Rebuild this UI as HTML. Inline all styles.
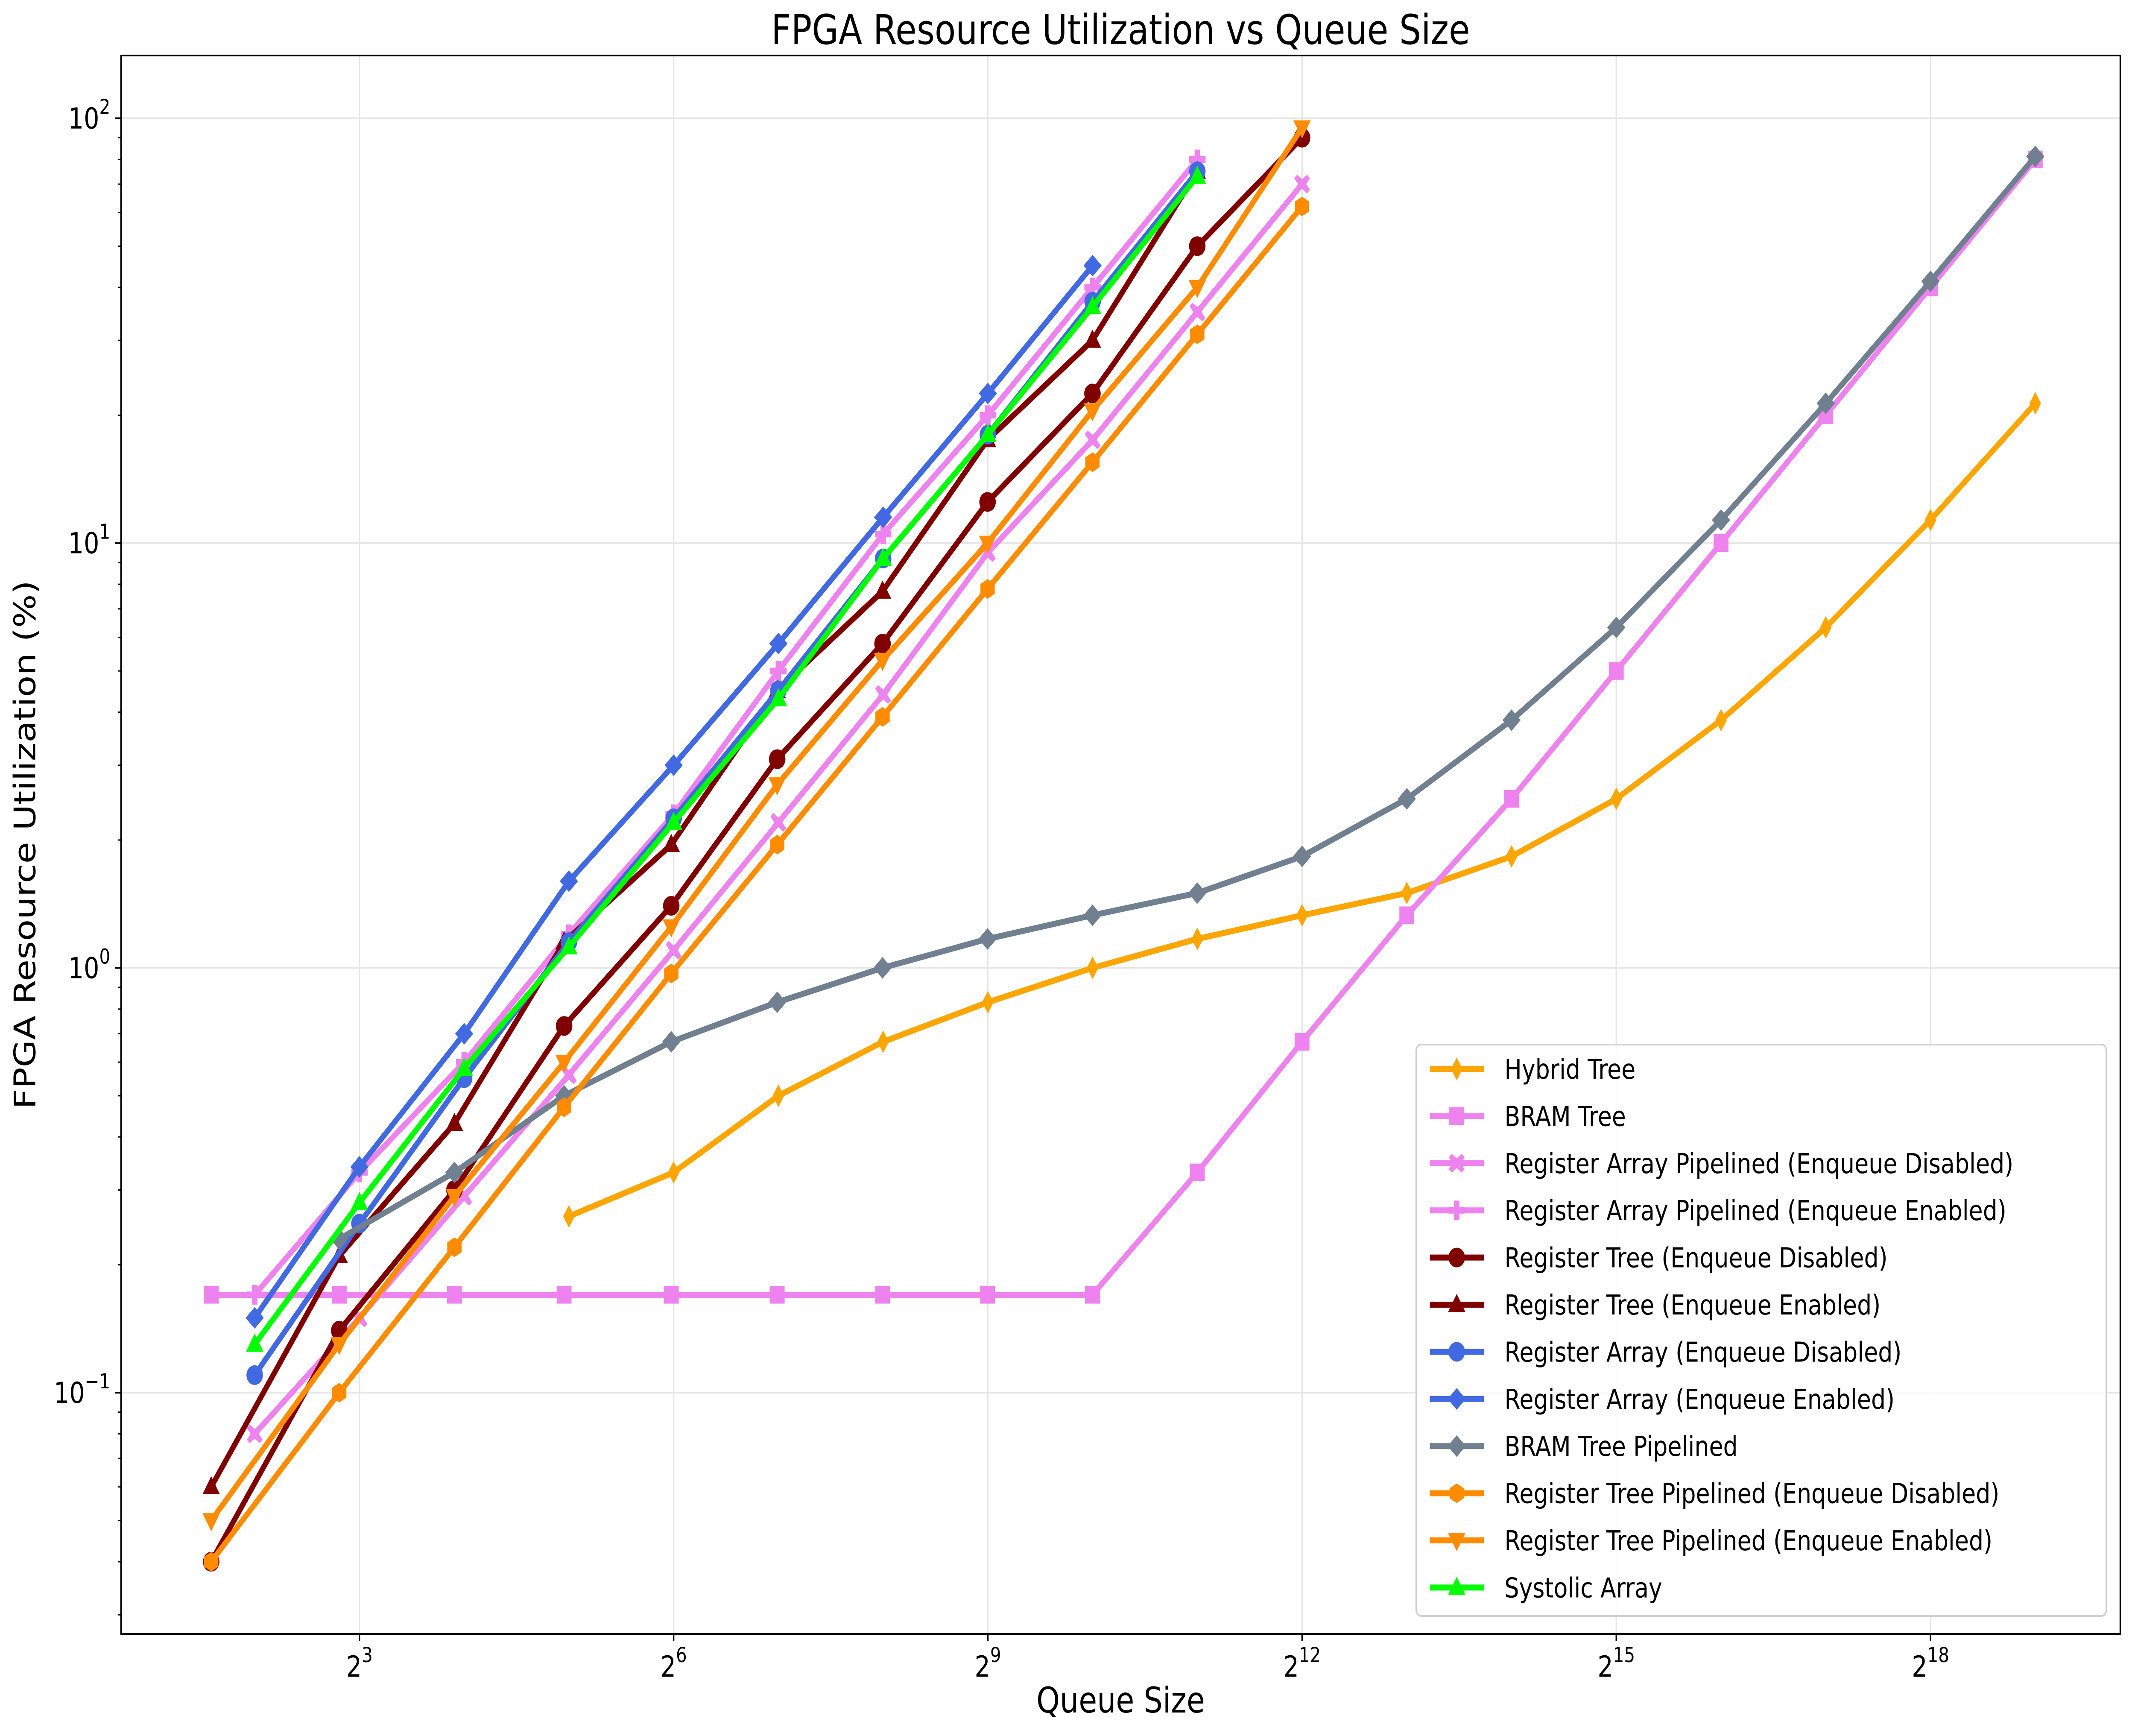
<!DOCTYPE html>
<html><head><meta charset="utf-8"><style>
html,body{margin:0;padding:0;background:#fff;width:100%;height:100%;overflow:hidden}
svg{display:block;width:100vw;height:100vh}
text{font-family:"DejaVu Sans","Liberation Sans",sans-serif}
</style></head><body>
<svg id="chart" viewBox="0 0 5946 4065" preserveAspectRatio="none" xmlns="http://www.w3.org/2000/svg"></svg>
<script>
const hybridX=[32,64,128,256,512,1024,2048,4096,8192,16384,32768,65536,131072,262144,524288];
const hybridY=[0.26,0.33,0.5,0.67,0.83,1.0,1.17,1.33,1.5,1.83,2.5,3.83,6.33,11.33,21.33];
const bramX=[3,7,15,31,63,127,255,511,1023,2047,4095,8191,16383,32767,65535,131071,262143,524287];
const bramY=[0.17,0.17,0.17,0.17,0.17,0.17,0.17,0.17,0.17,0.33,0.67,1.33,2.5,5,10,20,40,80];
const rapdX=[4,8,16,32,64,128,256,512,1024,2048,4096];
const rapdY=[0.08,0.15,0.29,0.56,1.1,2.2,4.4,9.5,17.5,35,70];
const rapeX=[4,8,16,32,64,128,256,512,1024,2048];
const rapeY=[0.17,0.33,0.6,1.2,2.3,5.0,10.5,20,40,80];
const rtdX=[3,7,15,31,63,127,255,511,1023,2047,4095];
const rtdY=[0.04,0.14,0.3,0.73,1.4,3.1,5.8,12.5,22.5,50,90];
const rteX=[3,7,15,31,63,127,255,511,1023,2047];
const rteY=[0.06,0.21,0.43,1.15,1.95,4.5,7.7,17.5,30,75];
const radX=[4,8,16,32,64,128,256,512,1024,2048];
const radY=[0.11,0.25,0.55,1.15,2.25,4.5,9.2,18,37,75];
const raeX=[4,8,16,32,64,128,256,512,1024];
const raeY=[0.15,0.34,0.7,1.6,3.0,5.8,11.5,22.5,45];
const btpX=[7,15,31,63,127,255,511,1023,2047,4095,8191,16383,32767,65535,131071,262143,524287];
const btpY=[0.23,0.33,0.5,0.67,0.83,1.0,1.17,1.33,1.5,1.83,2.5,3.83,6.33,11.33,21.33,41.33,81.33];
const rtpdX=[3,7,15,31,63,127,255,511,1023,2047,4095];
const rtpdY=[0.04,0.1,0.22,0.47,0.97,1.95,3.9,7.8,15.5,31,62];
const rtpeX=[3,7,15,31,63,127,255,511,1023,2047,4095];
const rtpeY=[0.05,0.13,0.29,0.6,1.25,2.7,5.3,10,20.5,40,95];
const sysX=[4,8,16,32,64,128,256,512,1024,2048];
const sysY=[0.13,0.28,0.58,1.12,2.2,4.3,9.2,18,36,73];
const seriesNames=["Hybrid Tree","BRAM Tree","Register Array Pipelined (Enqueue Disabled)","Register Array Pipelined (Enqueue Enabled)","Register Tree (Enqueue Disabled)","Register Tree (Enqueue Enabled)","Register Array (Enqueue Disabled)","Register Array (Enqueue Enabled)","BRAM Tree Pipelined","Register Tree Pipelined (Enqueue Disabled)","Register Tree Pipelined (Enqueue Enabled)","Systolic Array"];
const xTickExps=[3,6,9,12,15,18];
const yTickExps=[-1,0,1,2];

const S=[
 [hybridX,hybridY,"#FFA500","d"],[bramX,bramY,"#EE82EE","s"],[rapdX,rapdY,"#EE82EE","X"],[rapeX,rapeY,"#EE82EE","P"],
 [rtdX,rtdY,"#800000","o"],[rteX,rteY,"#800000","^"],[radX,radY,"#4169E1","o"],[raeX,raeY,"#4169E1","D"],
 [btpX,btpY,"#708090","D"],[rtpdX,rtpdY,"#FF8C00","h"],[rtpeX,rtpeY,"#FF8C00","v"],[sysX,sysY,"#00FF00","^"]];

const L=337,R=5905,T=130,B=3826;
const xs=q=>1001+(Math.log2(q)-3)*291.7;
const ys=v=>277+(2-Math.log10(v))*994.7;
const svg=document.getElementById('chart');
const NS="http://www.w3.org/2000/svg";
function mk(tag,attrs,parent){const e=document.createElementNS(NS,tag);for(const k in attrs)e.setAttribute(k,attrs[k]);(parent||svg).appendChild(e);return e;}

const grid=mk('g',{});


xTickExps.forEach(n=>{const x=xs(Math.pow(2,n));mk('line',{x1:x,x2:x,y1:T,y2:B,stroke:'#e6e6e6','stroke-width':4},grid);});
yTickExps.forEach(n=>{const y=ys(Math.pow(10,n));mk('line',{x1:L,x2:R,y1:y,y2:y,stroke:'#e6e6e6','stroke-width':4},grid);});

function marker(g,type,x,y,c,s){
 const r=s/2;let e;
 if(type==='o')e=mk('circle',{cx:x,cy:y,r:r*1.0},g);
 else if(type==='s')e=mk('rect',{x:x-r*0.9,y:y-r*0.9,width:r*1.8,height:r*1.8},g);
 else if(type==='^')e=mk('polygon',{points:`${x},${y-r*1.1} ${x-r*1.05},${y+r*0.75} ${x+r*1.05},${y+r*0.75}`},g);
 else if(type==='v')e=mk('polygon',{points:`${x},${y+r*1.1} ${x-r*1.05},${y-r*0.75} ${x+r*1.05},${y-r*0.75}`},g);
 else if(type==='D')e=mk('polygon',{points:`${x},${y-r*1.1} ${x+r*1.1},${y} ${x},${y+r*1.1} ${x-r*1.1},${y}`},g);
 else if(type==='d')e=mk('polygon',{points:`${x},${y-r*1.15} ${x+r*0.7},${y} ${x},${y+r*1.15} ${x-r*0.7},${y}`},g);
 else if(type==='h'){let p=[];for(let i=0;i<6;i++){const a=Math.PI/2+i*Math.PI/3;p.push((x+r*Math.cos(a)).toFixed(1)+','+(y-r*Math.sin(a)).toFixed(1));}e=mk('polygon',{points:p.join(' ')},g);}
 else if(type==='X'){const a=r*0.95,b=r*0.35;e=mk('path',{d:`M${x} ${y-b*1.4}L${x+a-b} ${y-a}L${x+a} ${y-a+b}L${x+b*1.4} ${y}L${x+a} ${y+a-b}L${x+a-b} ${y+a}L${x} ${y+b*1.4}L${x-a+b} ${y+a}L${x-a} ${y+a-b}L${x-b*1.4} ${y}L${x-a} ${y-a+b}L${x-a+b} ${y-a}Z`},g);}
 else if(type==='P'){const a=r,b=r*0.33;e=mk('path',{d:`M${x-b} ${y-a}H${x+b}V${y-b}H${x+a}V${y+b}H${x+b}V${y+a}H${x-b}V${y+b}H${x-a}V${y-b}H${x-b}Z`},g);}
 e.setAttribute('fill',c);
 
 
}

S.forEach((s,i)=>{
 const [X,Y,c,m]=s;
 const g=mk('g',{});
 
 
 const pts=X.map((q,j)=>xs(q).toFixed(1)+','+ys(Y[j]).toFixed(1)).join(' ');
 const pl=mk('polyline',{points:pts,fill:'none',stroke:c,'stroke-width':14,'stroke-linejoin':'round'},g);
 
 
 X.forEach((q,j)=>marker(g,m,xs(q),ys(Y[j]),c,46));
});

const ax=mk('rect',{x:L,y:T,width:R-L,height:B-T,fill:'none',stroke:'#000','stroke-width':4});



const xt=mk('g',{});


xTickExps.forEach(n=>{
 const x=xs(Math.pow(2,n));
 mk('line',{x1:x,x2:x,y1:B,y2:B+17,stroke:'#000','stroke-width':4},xt);
 const t=mk('text',{x:x,y:B+100,'font-size':68,'text-anchor':'middle'},xt);
 
 
 t.innerHTML=`2<tspan dy="-34" font-size="48">${n}</tspan>`;
});
const yt=mk('g',{});


for(let e=-2;e<=2;e++){for(let k=1;k<10;k++){const v=k*Math.pow(10,e);const y=ys(v);if(y<T||y>B)continue;
 mk('line',{x1:L-(k===1?17:9),x2:L,y1:y,y2:y,stroke:'#000','stroke-width':k===1?4:3},yt);}}
yTickExps.forEach(n=>{
 const y=ys(Math.pow(10,n));
 const t=mk('text',{x:L-30,y:y+24,'font-size':68,'text-anchor':'end'},yt);
 
 
 t.innerHTML=`10<tspan dy="-34" font-size="48">${n<0?'\u2212'+(-n):n}</tspan>`;
});

let t=mk('text',{x:(L+R)/2,y:103,'font-size':96,'text-anchor':'middle'});


t.textContent='FPGA Resource Utilization vs Queue Size';
t=mk('text',{x:(L+R)/2,y:4010,'font-size':83,'text-anchor':'middle'});


t.textContent='Queue Size';
t=mk('text',{x:0,y:0,'font-size':83,'text-anchor':'middle',transform:`translate(98,${(T+B)/2}) rotate(-90)`});


t.textContent='FPGA Resource Utilization (%)';

const lg=mk('g',{});


mk('rect',{x:3944,y:2446,width:1922,height:1338,rx:14,fill:'#fff','fill-opacity':0.8,stroke:'#d0d0d0','stroke-width':4},lg);
S.forEach((s,i)=>{
 const y=2503+i*110.4;
 const e=mk('g',{},lg);
 
 
 mk('line',{x1:3982,x2:4133,y1:y,y2:y,stroke:s[2],'stroke-width':14},e);
 marker(e,s[3],4057,y,s[2],46);
 const tx=mk('text',{x:4190,y:y+23,'font-size':64},e);
 
 
 tx.textContent=seriesNames[i];
});
</script>
</body></html>
